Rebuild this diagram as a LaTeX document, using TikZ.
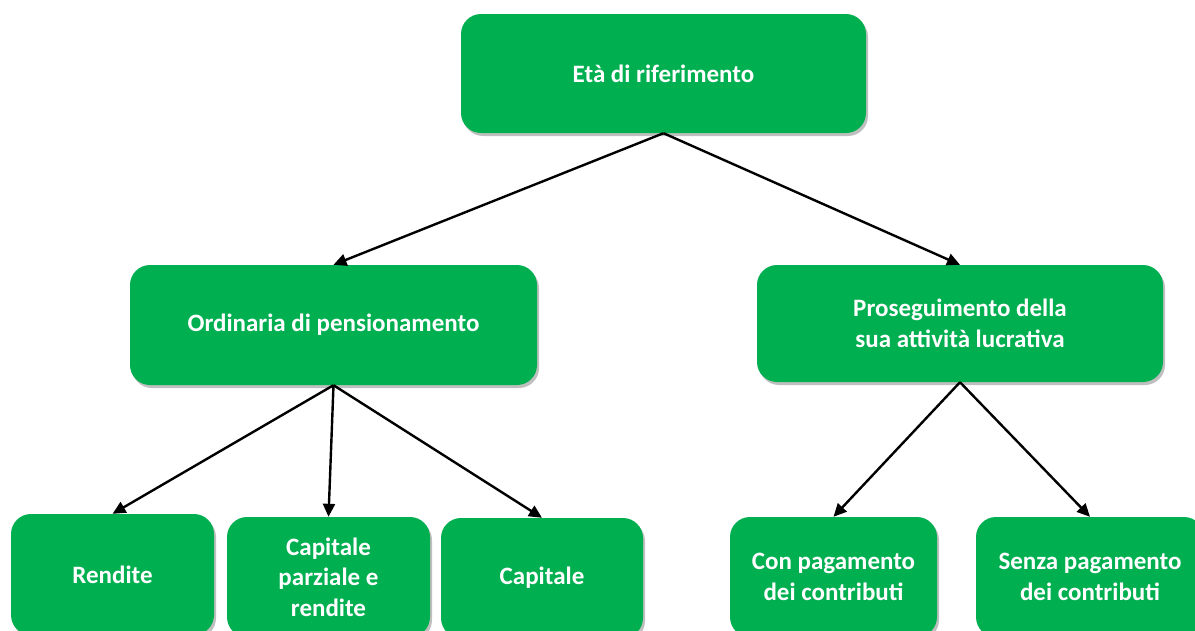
\documentclass[tikz,border=0pt]{standalone}
\usepackage{fontspec}
\setmainfont{Carlito}
\usetikzlibrary{arrows.meta,shadows}
\definecolor{boxgreen}{HTML}{00AF50}
\tikzset{
  box/.style={draw=none, fill=boxgreen, rounded corners=20pt, text=white,
    font=\bfseries\fontsize{25}{30.5}\selectfont, align=center, inner sep=0pt,
    drop shadow={shadow xshift=2pt, shadow yshift=-3pt, opacity=0.25, fill=black}},
  conn/.style={line width=2.4pt, draw=black, -{Triangle[length=13pt,width=12pt]}}
}
\begin{document}
\begin{tikzpicture}[x=1pt,y=-1pt]
\useasboundingbox (0,0) rectangle (1195,630);
\begin{scope}
\clip (0,0) rectangle (1195,630);
\node[box, minimum width=405pt, minimum height=119pt] (top) at (663.5,73.5) {Età di riferimento};
\node[box, minimum width=407pt, minimum height=120pt] (ord) at (333.5,325) {Ordinaria di pensionamento};
\node[box, minimum width=406pt, minimum height=117pt] (pro) at (960,323.5) {Proseguimento della\\sua attività lucrativa};
\node[box, minimum width=203pt, minimum height=121pt] (ren) at (112.5,574.5) {Rendite};
\node[box, minimum width=203pt, minimum height=120pt] (cpr) at (328.5,577) {Capitale\\parziale e\\rendite};
\node[box, minimum width=202pt, minimum height=120pt] (cap) at (542,578) {Capitale};
\node[box, minimum width=207pt, minimum height=120pt] (con) at (833.5,577) {Con pagamento\\dei contributi};
\node[box, minimum width=228pt, minimum height=120pt] (sen) at (1090,577) {Senza pagamento\\dei contributi};
\end{scope}
\draw[conn] (top.south) -- (ord.north);
\draw[conn] (top.south) -- (pro.north);
\draw[conn] (ord.south) -- (ren.north);
\draw[conn] (ord.south) -- (cpr.north);
\draw[conn] (ord.south) -- (cap.north);
\draw[conn] (pro.south) -- (con.north);
\draw[conn] (pro.south) -- (sen.north);
\end{tikzpicture}
\end{document}
